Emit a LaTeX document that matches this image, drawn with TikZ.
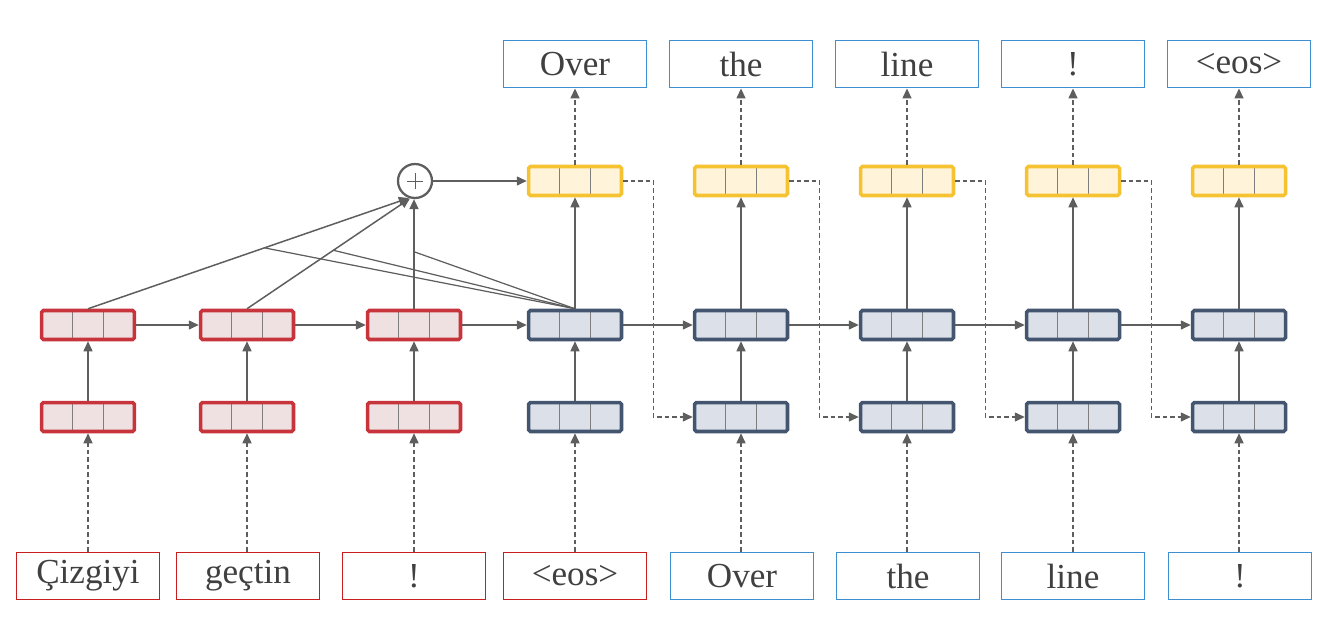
\documentclass[tikz,border=0pt]{standalone}
\usepackage{fontspec}
\setmainfont{Liberation Serif}
\usetikzlibrary{arrows.meta,calc}

\definecolor{encline}{HTML}{C8343B}
\definecolor{encfill}{HTML}{EFE0E1}
\definecolor{decline}{HTML}{44566F}
\definecolor{decfill}{HTML}{DCE0E8}
\definecolor{outline}{HTML}{F5C232}
\definecolor{outfill}{HTML}{FFF4DA}
\definecolor{srcred}{HTML}{C81E1E}
\definecolor{tgtblue}{HTML}{3D8FD2}
\definecolor{arrowgray}{HTML}{5E5E5E}
\definecolor{divgray}{HTML}{7E7E7E}
\definecolor{textgray}{HTML}{404040}

\tikzset{
  vecbox/.style={draw, line width=2pt, rounded corners=1pt,
    minimum width=1.86cm, minimum height=0.58cm, inner sep=0pt,
    path picture={
      \draw[divgray, line width=0.9pt]
        ($(path picture bounding box.south west)!0.3333!(path picture bounding box.south east)$) --
        ($(path picture bounding box.north west)!0.3333!(path picture bounding box.north east)$)
        ($(path picture bounding box.south west)!0.6667!(path picture bounding box.south east)$) --
        ($(path picture bounding box.north west)!0.6667!(path picture bounding box.north east)$);
    }},
  encbox/.style={vecbox, draw=encline, fill=encfill},
  decbox/.style={vecbox, draw=decline, fill=decfill},
  outbox/.style={vecbox, draw=outline, fill=outfill},
  wordbox/.style={draw, line width=0.8pt, minimum width=2.85cm, minimum height=0.95cm,
    inner sep=0pt, text=textgray, font=\fontsize{20}{24}\selectfont},
  srcword/.style={wordbox, draw=srcred},
  tgtword/.style={wordbox, draw=tgtblue},
  flow/.style={draw=arrowgray, line width=0.85pt, -{Triangle[length=0.2cm,width=0.18cm]}},
  feed/.style={flow, dash pattern=on 0.09cm off 0.06cm},
  attn/.style={draw=arrowgray, line width=0.7pt},
}

\begin{document}
\begin{tikzpicture}[x=0.02cm, y=-0.02cm]
  \path[use as bounding box] (0,0) rectangle (1341,625);

  % input words
  \node[srcword] (in1) at (88,576)   {Çizgiyi};
  \node[srcword] (in2) at (248,576)  {geçtin};
  \node[srcword] (in3) at (414,576)  {!};
  \node[srcword] (in4) at (575,576)  {<eos>};
  \node[tgtword] (in5) at (742,576)  {Over};
  \node[tgtword] (in6) at (908,576)  {the};
  \node[tgtword] (in7) at (1073,576) {line};
  \node[tgtword] (in8) at (1240,576) {!};

  % embedding row and recurrent row
  \foreach \i/\x in {1/88,2/247,3/414} {
    \node[encbox] (low\i) at (\x,417) {};
    \node[encbox] (up\i)  at (\x,325) {};
  }
  \foreach \i/\x in {4/575,5/741,6/907,7/1073,8/1239} {
    \node[decbox] (low\i) at (\x,417) {};
    \node[decbox] (up\i)  at (\x,325) {};
    \node[outbox] (yel\i) at (\x,181) {};
  }

  % predicted words
  \node[tgtword] (top4) at (575,64)  {Over};
  \node[tgtword] (top5) at (741,64)  {the};
  \node[tgtword] (top6) at (907,64)  {line};
  \node[tgtword] (top7) at (1073,64) {!};
  \node[tgtword] (top8) at (1239,64) {<eos>};

  % context sum
  \node[circle, draw=arrowgray, line width=1.3pt, fill=white, minimum size=0.68cm, inner sep=0pt] (plus) at (415,181) {};
  \draw[arrowgray, line width=0.5pt] ($(plus.center)+(-8,0)$) -- ($(plus.center)+(8,0)$)
                                     ($(plus.center)+(0,-8)$) -- ($(plus.center)+(0,8)$);

  % vertical flow
  \foreach \i in {1,...,8} {
    \draw[feed] (low\i |- in\i.north) -- (low\i);
    \draw[flow] (low\i) -- (up\i);
  }
  \foreach \i in {4,...,8} {
    \draw[flow] (up\i) -- (yel\i);
    \draw[feed] (yel\i) -- (top\i);
  }

  % recurrent connections
  \foreach \i/\j in {1/2,2/3,3/4,4/5,5/6,6/7,7/8} {
    \draw[flow] (up\i) -- (up\j);
  }

  % previous prediction fed back as next input
  \foreach \i/\j in {4/5,5/6,6/7,7/8} {
    \draw[feed] (yel\i.east) -- ++(30,0) |- (low\j.west);
  }

  % attention
  \draw[flow] (up1.north) -- (plus.250);
  \draw[flow] (up2.north) -- (plus.254);
  \draw[flow] (up3.north) -- (up3.north |- plus.south);
  \coordinate (m1) at ($(up1.north)!0.55!(plus.250)$);
  \coordinate (m2) at ($(up2.north)!0.53!(plus.254)$);
  \coordinate (m3) at ($(up3.north)!0.52!(up3.north |- plus.south)$);
  \draw[attn] (up4.north) -- (m1);
  \draw[attn] (up4.north) -- (m2);
  \draw[attn] (up4.north) -- (m3);
  \draw[flow] (plus) -- (yel4);
\end{tikzpicture}
\end{document}
